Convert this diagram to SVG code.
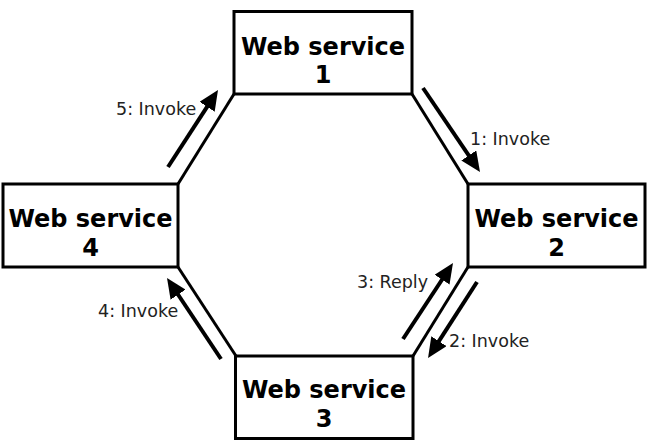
<svg xmlns="http://www.w3.org/2000/svg" width="651" height="446" viewBox="0 0 651 446">
<style>
.box{fill:#fff;stroke:#000;stroke-width:3}
.t{font-family:"DejaVu Sans",sans-serif;font-weight:bold;font-size:24px;text-anchor:middle;fill:#000}
.l{font-family:"DejaVu Sans",sans-serif;font-size:17.5px;fill:#222}
.c{stroke:#000;stroke-width:3;fill:none}
.a{stroke:#000;stroke-width:4;fill:none;marker-end:url(#ah)}
</style>
<defs>
<marker id="ah" markerUnits="userSpaceOnUse" markerWidth="22" markerHeight="18" refX="2" refY="9" orient="auto">
<path d="M0,0 L20,9 L0,18 z" fill="#000"/>
</marker>
</defs>
<g id="connectors">
<line class="c" x1="234" y1="94" x2="178" y2="184"/>
<line class="c" x1="412" y1="94" x2="468" y2="184"/>
<line class="c" x1="468" y1="267" x2="413" y2="356"/>
<line class="c" x1="178" y1="267" x2="236" y2="356"/>
<line class="a" x1="168" y1="167" x2="208.2" y2="105.1"/>
<line class="a" x1="423" y1="88" x2="469.9" y2="157.1"/>
<line class="a" x1="403" y1="339" x2="443.1" y2="278"/>
<line class="a" x1="477" y1="282" x2="437.8" y2="342.9"/>
<line class="a" x1="221" y1="359" x2="177" y2="293"/>
<text class="l" x="116" y="115">5: Invoke</text>
<text class="l" x="470" y="145">1: Invoke</text>
<text class="l" x="357" y="288">3: Reply</text>
<text class="l" x="449" y="347">2: Invoke</text>
<text class="l" x="98" y="317">4: Invoke</text>
</g>
<g id="ws1">
<rect class="box" x="234" y="11.5" width="178" height="82.5"/>
<text class="t" x="323" y="55">Web service</text>
<text class="t" x="323" y="83">1</text>
</g>
<g id="ws2">
<rect class="box" x="468" y="184" width="177" height="83"/>
<text class="t" x="556.5" y="227">Web service</text>
<text class="t" x="556.5" y="256">2</text>
</g>
<g id="ws3">
<rect class="box" x="235.5" y="356" width="177.5" height="82.5"/>
<text class="t" x="324" y="398">Web service</text>
<text class="t" x="324" y="427">3</text>
</g>
<g id="ws4">
<rect class="box" x="3" y="184" width="175" height="83"/>
<text class="t" x="90.5" y="227">Web service</text>
<text class="t" x="90.5" y="256">4</text>
</g>
</svg>
